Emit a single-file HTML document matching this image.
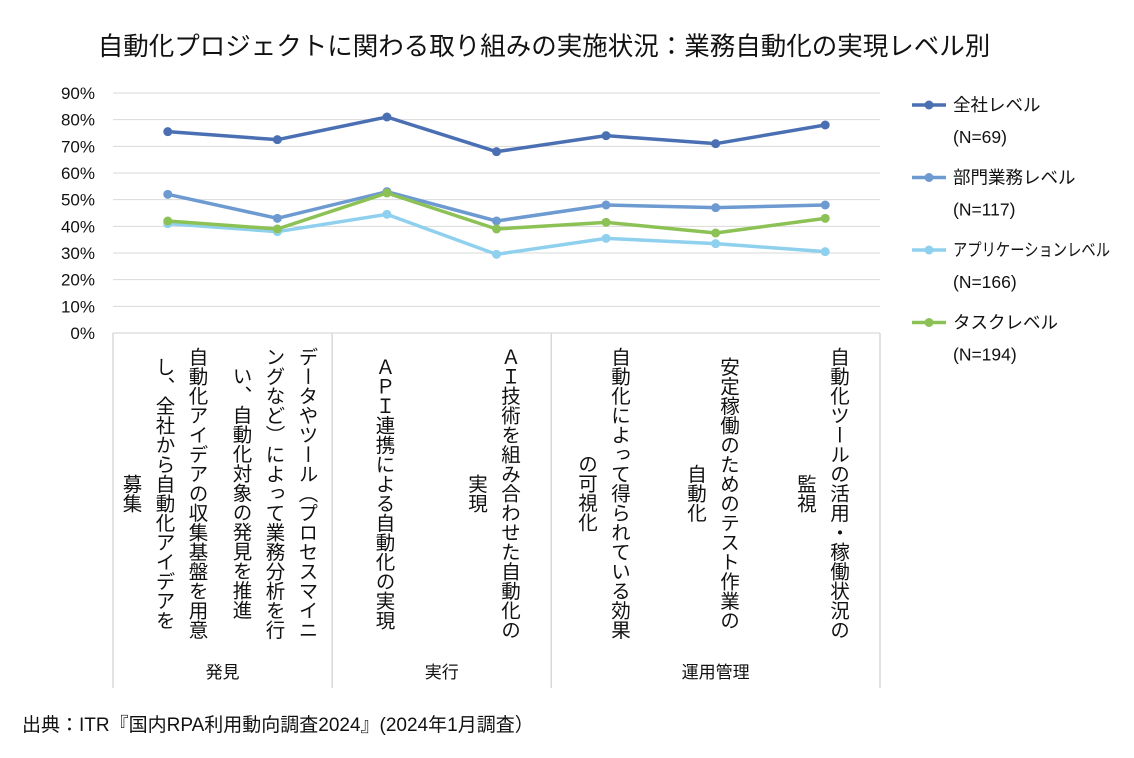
<!DOCTYPE html>
<html><head><meta charset="utf-8"><style>
body{margin:0;background:#fff;width:1134px;height:758px;overflow:hidden;font-family:"Liberation Sans","Noto Sans CJK JP",sans-serif;color:#111}
.v{position:absolute;writing-mode:vertical-rl;text-align:center;font-size:19.5px;line-height:33px;top:343px;height:300px;display:flex;align-items:center}
</style></head><body>
<svg width="1134" height="758" style="position:absolute;left:0;top:0">
<text x="544" y="55" text-anchor="middle" font-size="25.5" fill="#111">自動化プロジェクトに関わる取り組みの実施状況：業務自動化の実現レベル別</text>
<g id="grid"></g><g id="series"></g><g id="legend"></g>
<text x="22" y="731" font-size="19" fill="#111">出典：ITR『国内RPA利用動向調査2024』(2024年1月調査）</text>
</svg>
<div class="v" style="left:110px;width:105px;justify-content:center"><span>自動化アイデアの収集基盤を用意<br>し、全社から自動化アイデアを<br>募集</span></div>
<div class="v" style="left:220px;width:105px;justify-content:center"><span>データやツール（プロセスマイニ<br>ングなど）によって業務分析を行<br>い、自動化対象の発見を推進</span></div>
<div class="v" style="left:330px;width:105px;justify-content:center"><span>ＡＰＩ連携による自動化の実現</span></div>
<div class="v" style="left:439px;width:105px;justify-content:center"><span>ＡＩ技術を組み合わせた自動化の<br>実現</span></div>
<div class="v" style="left:549px;width:105px;justify-content:center"><span>自動化によって得られている効果<br>の可視化</span></div>
<div class="v" style="left:658px;width:105px;justify-content:center"><span>安定稼働のためのテスト作業の<br>自動化</span></div>
<div class="v" style="left:768px;width:105px;justify-content:center"><span>自動化ツールの活用・稼働状況の<br>監視</span></div>
<script>
const categories=["c1","c2","c3","c4","c5","c6","c7"];
const groups=["発見","実行","運用管理"];
const groupSpans=[2,2,3];
const yTicks=[0,10,20,30,40,50,60,70,80,90];
const seriesNames=["全社レベル","部門業務レベル","アプリケーションレベル","タスクレベル"];
const seriesN=["(N=69)","(N=117)","(N=166)","(N=194)"];
const s1=[75.5,72.5,81,68,74,71,78];
const s2=[52,43,53,42,48,47,48];
const s3=[41,38,44.5,29.5,35.5,33.5,30.5];
const s4=[42,39,52.5,39,41.5,37.5,43];
const colors=["#4a70b3","#6d9ad0","#8fd0ee","#8cc155"];
const X0=113,X1=880,Y0=333,Y90=93;
const band=(X1-X0)/categories.length;
const x=i=>X0+band*(i+0.5);
const y=v=>Y0-(Y0-Y90)*v/90;
const NS="http://www.w3.org/2000/svg";
function mk(t,a,p){const e=document.createElementNS(NS,t);for(const k in a)e.setAttribute(k,a[k]);p.appendChild(e);return e;}
const g=document.getElementById('grid');
yTicks.forEach(t=>{
 const l=mk('line',{x1:X0,x2:X1,y1:y(t),y2:y(t),stroke:t===0?'#cfcfcf':'#d9d9d9','stroke-width':1},g);
 
 
 const tx=mk('text',{x:95,y:y(t)+6,'text-anchor':'end','font-size':17,fill:'#111'},g);
 tx.textContent=t+'%';
 
 
});
let idx=0;
const bounds=[0];
groupSpans.forEach(s=>{idx+=s;bounds.push(idx);});
bounds.forEach(b=>{
 const l=mk('line',{x1:X0+band*b,x2:X0+band*b,y1:Y0,y2:688,stroke:'#d9d9d9','stroke-width':1.5},g);
 
 
});
groups.forEach((gn,i)=>{
 const cx=X0+band*(bounds[i]+bounds[i+1])/2;
 const t=mk('text',{x:cx,y:678,'text-anchor':'middle','font-size':17,fill:'#111'},g);
 t.textContent=gn;
 
 
});
const sg=document.getElementById('series');
const lg=document.getElementById('legend');
[s1,s2,s3,s4].forEach((d,si)=>{
 const p=mk('polyline',{points:d.map((v,i)=>x(i)+','+y(v)).join(' '),fill:'none',stroke:colors[si],'stroke-width':3.5,'stroke-linejoin':'round'},sg);
 
 
 d.forEach((v,i)=>{
  const c=mk('circle',{cx:x(i),cy:y(v),r:4.5,fill:colors[si]},sg);
  
  
 });
 const ly=105+si*72.5;
 const ll=mk('line',{x1:912,x2:946,y1:ly,y2:ly,stroke:colors[si],'stroke-width':3.5},lg);
 
 
 const lc=mk('circle',{cx:929,cy:ly,r:4.5,fill:colors[si]},lg);
 
 
 const attrs={x:953,y:ly+6,'font-size':17.5,fill:'#111'};
 if(seriesNames[si].length>8){attrs.textLength=157;attrs.lengthAdjust='spacingAndGlyphs';}
 const t1=mk('text',attrs,lg);
 t1.textContent=seriesNames[si];
 
 
 const t2=mk('text',{x:953,y:ly+38,'font-size':17.5,fill:'#111'},lg);
 t2.textContent=seriesN[si];
 
 
});
</script>
</body></html>
